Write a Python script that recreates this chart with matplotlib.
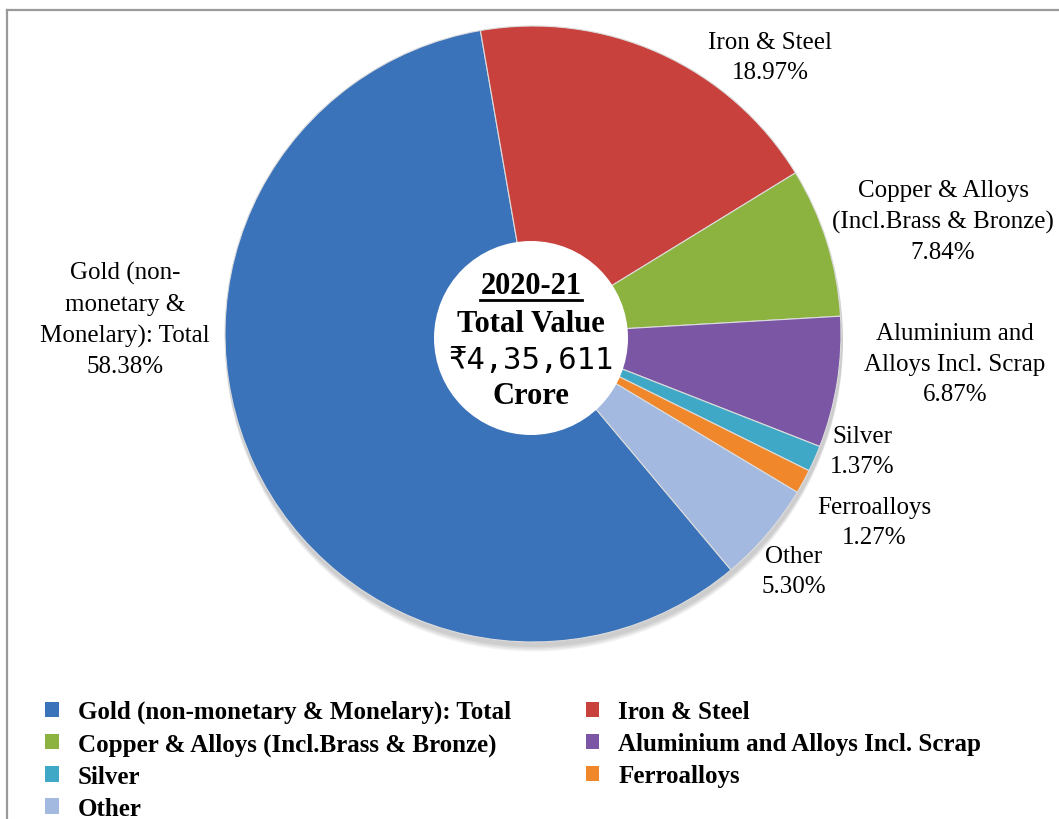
import matplotlib
matplotlib.use("Agg")
import matplotlib.pyplot as plt
from matplotlib.patches import Circle, Patch
from matplotlib.lines import Line2D

# ---- data ----
categories = [
    "Gold (non-monetary & Monelary): Total",
    "Iron & Steel",
    "Copper & Alloys (Incl.Brass & Bronze)",
    "Aluminium and Alloys Incl. Scrap",
    "Silver",
    "Ferroalloys",
    "Other",
]
label_texts = [
    "Gold (non-\nmonetary &\nMonelary): Total",
    "Iron & Steel",
    "Copper & Alloys\n(Incl.Brass & Bronze)",
    "Aluminium and\nAlloys Incl. Scrap",
    "Silver",
    "Ferroalloys",
    "Other",
]
shares = [58.38, 18.97, 7.84, 6.87, 1.37, 1.27, 5.30]
colors = ["#3b73ba", "#c8413d", "#8cb23f", "#7a56a5", "#3ea8c6", "#f0882b", "#a3b9df"]
center_lines = ["2020-21", "Total Value", "\u20b94,35,611", "Crore"]

W, H = 1059, 820
fig = plt.figure(figsize=(W / 100, H / 100), dpi=100)
fig.patch.set_facecolor("white")
ax = fig.add_axes([0, 0, 1, 1])

cx, cy, R = 533, H - 335, 308

# soft shadow under pie
for i, a in enumerate([0.05, 0.05, 0.05, 0.05]):
    ax.add_patch(Circle((cx + 1, cy - 4 - i * 1.5), R + 1, facecolor="#000000",
                        alpha=a, edgecolor="none", zorder=0))

wedges, _ = ax.pie(shares, colors=colors, startangle=-50, counterclock=False,
                   center=(cx, cy), radius=R,
                   wedgeprops=dict(edgecolor="#dcdcdc", linewidth=0.8))
for w in wedges:
    w.set_zorder(1)

ax.set_xlim(0, W)
ax.set_ylim(0, H)
ax.set_aspect("auto")
ax.axis("off")

serif = ["Liberation Serif", "DejaVu Serif"]

# data labels
label_pos = [(125, 320), (770, 58), (943, 222), (955, 365), (862, 452), (874, 523), (794, 572)]
for txt, v, (x, y) in zip(label_texts, shares, label_pos):
    ax.text(x, H - y, f"{txt}\n{v:.2f}%", ha="center", va="center",
            fontsize=18, family=serif, linespacing=1.5, color="black", zorder=5)

# center circle
ax.add_patch(Circle((531, H - 339), 97, facecolor="white", edgecolor="none", zorder=3))
ys = [287, 325, 361, 397]
t0 = None
for i, (s, y) in enumerate(zip(center_lines, ys)):
    if i == 2:
        t = ax.text(531, H - y, s, ha="center", va="center", fontsize=22,
                    family=["DejaVu Sans Mono"], zorder=6)
    else:
        t = ax.text(531, H - y, s, ha="center", va="center", fontsize=22,
                    family=serif, fontweight="bold", zorder=6)
    if i == 0:
        t0 = t

# underline first line
fig.canvas.draw()
bb = t0.get_window_extent(renderer=fig.canvas.get_renderer())
ax.add_line(Line2D([bb.x0, bb.x1], [bb.y0 + 1, bb.y0 + 1], color="black", lw=2, zorder=6))

# legend (row-wise order)
handles = [Patch(facecolor=c, edgecolor="none") for c in colors]
order = [0, 2, 4, 6, 1, 3, 5]
leg = fig.legend([handles[i] for i in order], [categories[i] for i in order],
                 loc="upper left", bbox_to_anchor=(45 / W, 1 - 701 / H), ncol=2,
                 frameon=False, prop=dict(family=serif, weight="bold", size=18),
                 handlelength=0.55, handleheight=0.55, handletextpad=0.75,
                 labelspacing=0.36, columnspacing=3.0, borderpad=0, borderaxespad=0)

# chart-area border (left and top only visible)
fig.add_artist(Line2D([6.5 / W, 6.5 / W], [0, 1 - 10.5 / H], transform=fig.transFigure,
                      color="#9a9a9a", lw=1.6))
fig.add_artist(Line2D([6.5 / W, 1], [1 - 10.5 / H, 1 - 10.5 / H], transform=fig.transFigure,
                      color="#9a9a9a", lw=1.6))

fig.savefig("out.png", dpi=100, facecolor="white")
